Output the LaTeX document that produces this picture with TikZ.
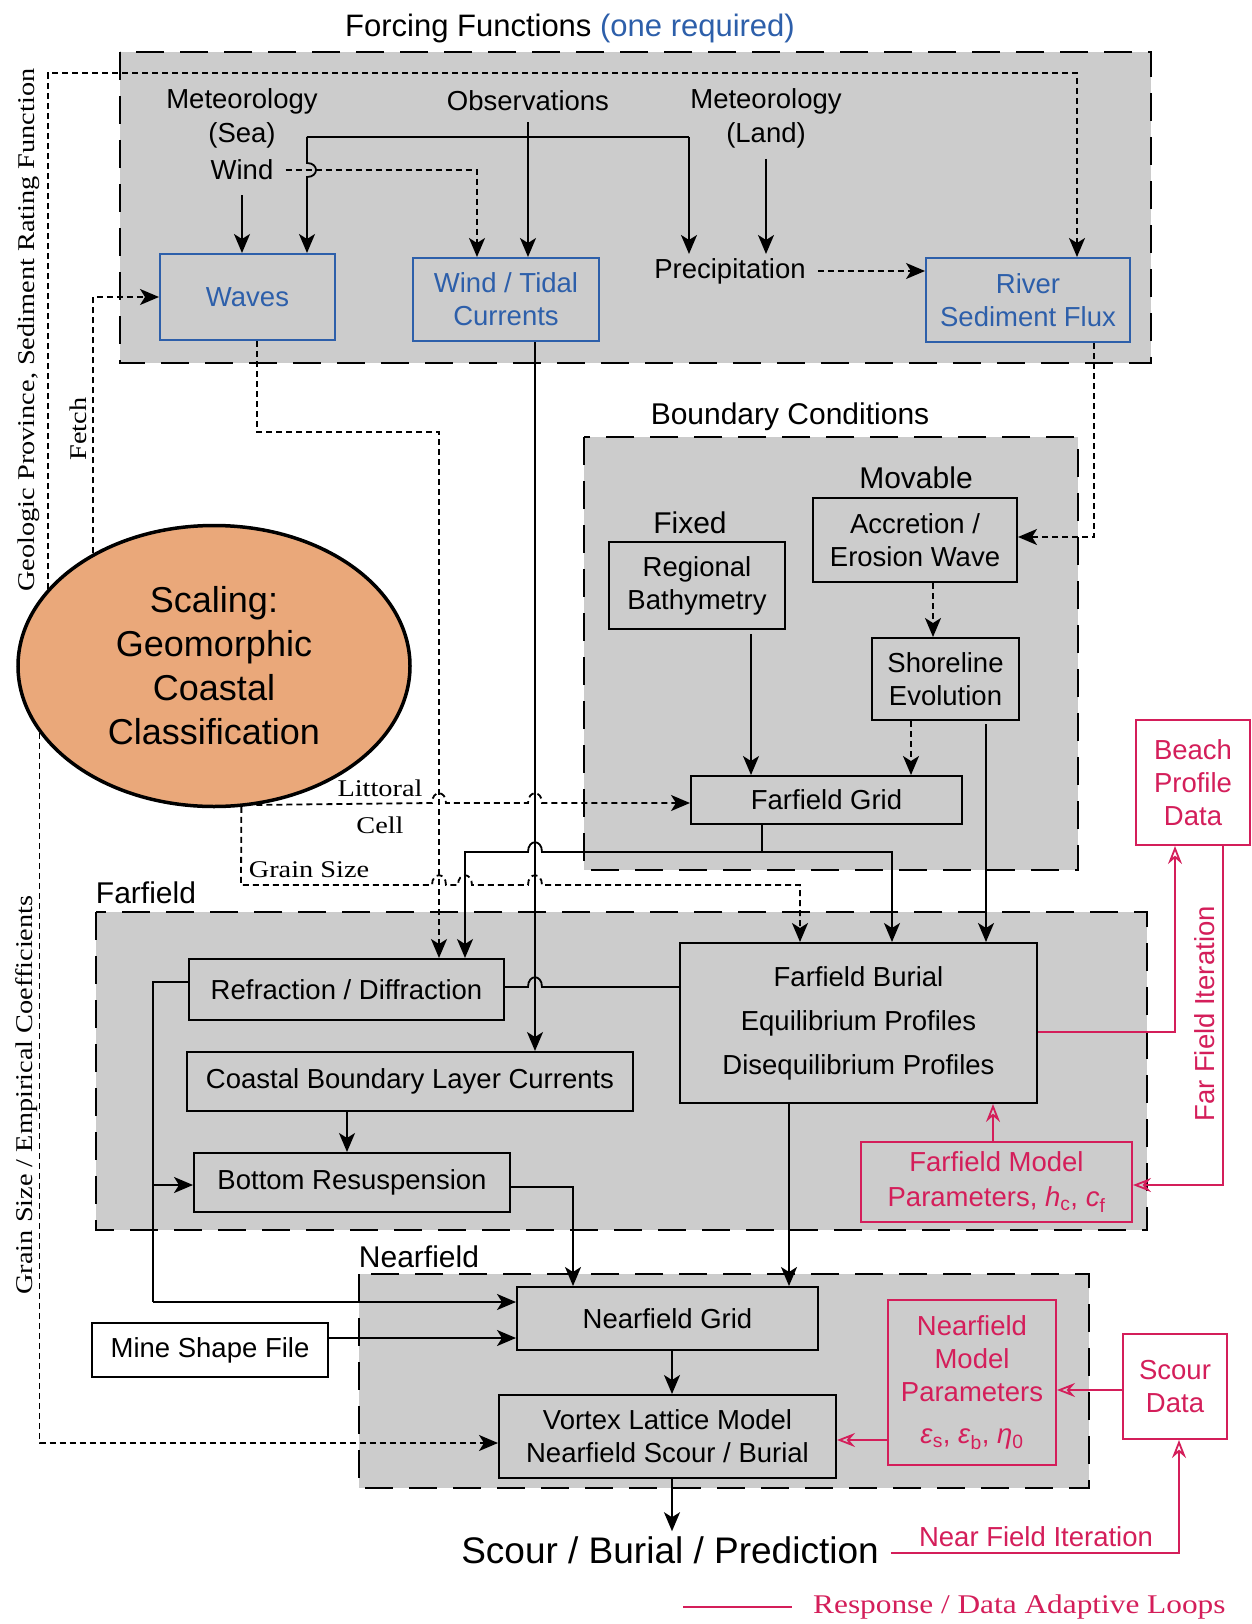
\documentclass[tikz,border=0pt]{standalone}
\usepackage{fontspec}
\setmainfont{Liberation Sans}
\newfontfamily\serif{Liberation Serif}
\usepackage{graphicx}
\usetikzlibrary{arrows.meta,shapes.geometric}
\definecolor{mygray}{RGB}{204,204,204}
\definecolor{myblue}{RGB}{45,95,170}
\definecolor{myred}{RGB}{212,30,90}
\definecolor{myorange}{RGB}{234,168,122}
\newcommand\fN{\fontsize{27.5}{33}\selectfont}
\newcommand\fT{\fontsize{30}{36}\selectfont}
\newcommand\fS{\serif\fontsize{24}{28}\selectfont}
\newcommand\st[1]{\scalebox{1.18}[1]{#1}}
\tikzset{
 blk/.tip={Stealth[length=19pt,width=16pt,inset=5pt]},
 opn/.tip={Stealth[open,length=18pt,width=14pt,inset=6pt]},
}
\begin{document}
\begin{tikzpicture}[x=1pt,y=-1pt,
 every node/.style={font=\fN, inner sep=0pt},
 box/.style={draw, line width=2pt, align=center, inner sep=0pt},
 bbox/.style={box, draw=myblue, text=myblue},
 rbox/.style={box, draw=myred, text=myred},
 grp/.style={draw, fill=mygray, line width=2.2pt, dash pattern=on 28pt off 16pt},
 con/.style={line width=1.8pt},
 dsh/.style={con, dash pattern=on 6pt off 4pt},
 arr/.style={-blk},
 oarr/.style={con, draw=myred, -opn},
 ]
\useasboundingbox (0,0) rectangle (1252,1624);
\fill[white] (0,0) rectangle (1252,1624);

% groups
\draw[grp] (120,52) rectangle (1151,363);
\draw[grp] (584,437) rectangle (1078,870);
\draw[grp] (96,912) rectangle (1147,1230);
\draw[grp] (359,1274) rectangle (1089,1488);

% titles and labels
\node[font=\fontsize{31}{36}\selectfont] (title) at (570,28) {Forcing Functions \textcolor{myblue}{(one required)}};
\node[align=center, font=\fontsize{27.5}{34.5}\selectfont] (metsea) at (242,118.5) {Meteorology\\(Sea)};
\node (wind) at (242,170) {Wind};
\node (obs) at (528,101) {Observations};
\node[align=center, font=\fontsize{27.5}{34.5}\selectfont] (metland) at (766,118.5) {Meteorology\\(Land)};
\node[inner ysep=4pt] (precip) at (730,271) {Precipitation};
\node[font=\fT] (bctitle) at (790,417) {Boundary Conditions};
\node[font=\fT] (movable) at (916,478) {Movable};
\node[font=\fT] (fixed) at (690,523) {Fixed};
\node[font=\fT] (fftitle) at (146,893) {Farfield};
\node[font=\fT] (nftitle) at (419,1257) {Nearfield};
\node[font=\fS] (littoral) at (380,788) {\st{Littoral}};
\node[font=\fS] (cell) at (380,825) {\st{Cell}};
\node[font=\fS] (grainlbl) at (309,870) {\st{Grain Size}};
\node[rotate=90, font=\fS] (geo) at (29,330) {\st{Geologic Province, Sediment Rating Function}};
\node[rotate=90, font=\fS] (fetch) at (78,429) {\st{Fetch}};
\node[rotate=90, font=\fS] (gsec) at (27,1095) {\st{Grain Size / Empirical Coefficients}};
\node[rotate=90, text=myred] (ffit) at (1205,1014) {Far Field Iteration};
\node[text=myred] (nfit) at (1036,1537) {Near Field Iteration};
\node[font=\fontsize{37}{44}\selectfont, inner ysep=5pt] (sbp) at (670,1550) {Scour / Burial / Prediction};
\node[text=myred, font=\serif\fontsize{27}{30}\selectfont, anchor=west] (legend) at (813,1607) {\scalebox{1.16}[1]{Response / Data Adaptive Loops}};

% ellipse
\node[ellipse, draw, line width=3.5pt, fill=myorange, minimum width=392pt, minimum height=281pt, align=center, font=\fontsize{36}{44}\selectfont] (ell) at (214,666) {Scaling:\\Geomorphic\\Coastal\\Classification};

% boxes
\node[bbox, minimum width=175, minimum height=86] (waves) at (247.5,297) {Waves};
\node[bbox, minimum width=186, minimum height=83] (wtc) at (506,299.5) {Wind / Tidal\\Currents};
\node[bbox, minimum width=204, minimum height=84] (river) at (1028,300) {River\\Sediment Flux};
\node[box, minimum width=176, minimum height=87] (regbath) at (697,585.5) {Regional\\Bathymetry};
\node[box, minimum width=204, minimum height=84] (accr) at (915,540) {Accretion /\\Erosion Wave};
\node[box, minimum width=147, minimum height=82] (shore) at (945.5,679) {Shoreline\\Evolution};
\node[box, minimum width=271, minimum height=48] (ffgrid) at (826.5,800) {Farfield Grid};
\node[box, minimum width=315, minimum height=61] (refr) at (346.5,989.5) {Refraction / Diffraction};
\node[box, minimum width=446, minimum height=59] (cblc) at (410,1081.5) {Coastal Boundary Layer Currents};
\node[box, minimum width=316, minimum height=59] (bres) at (352,1182.5) {Bottom Resuspension};
\node[box, minimum width=357, minimum height=160, font=\fontsize{27.5}{44}\selectfont] (ffb) at (858.5,1023) {Farfield Burial\\Equilibrium Profiles\\Disequilibrium Profiles};
\node[rbox, minimum width=271, minimum height=80, font=\fontsize{27.5}{35}\selectfont] (ffm) at (996.5,1182) {Farfield Model\\Parameters, \textit{h}\textsubscript{c}, \textit{c}\textsubscript{f}};
\node[rbox, fill=white, minimum width=114, minimum height=125] (beach) at (1193,782.5) {Beach\\Profile\\Data};
\node[box, minimum width=301, minimum height=63] (nfg) at (667.5,1318.5) {Nearfield Grid};
\node[box, fill=white, minimum width=236, minimum height=54] (mine) at (210,1350) {Mine Shape File};
\node[box, minimum width=337, minimum height=83] (vortex) at (667.5,1436.5) {Vortex Lattice Model\\Nearfield Scour / Burial};
\node[rbox, minimum width=168, minimum height=165] (nfp) at (972,1382.5) {Nearfield\\Model\\Parameters\\[9pt]\textit{ε}\textsubscript{s}, \textit{ε}\textsubscript{b}, \textit{η}\textsubscript{0}};
\node[rbox, fill=white, minimum width=104, minimum height=105] (scour) at (1175,1386.5) {Scour\\Data};

% helper coordinates
\coordinate (obsL) at (307,137);
\coordinate (obsR) at (689,137);
\coordinate (geoTR) at (1077,73);
\coordinate (wvc) at (439,432);
\coordinate (fgj) at (762,852);
\coordinate (rlA) at (153,1185);
\coordinate (rlB) at (153,1302);

% forcing connectors
\draw[con,arr] ([yshift=-15]wind.south) -- (wind.south |- waves.north);
\draw[con,arr] ([yshift=-11]obs.south) -- (obs.south |- wtc.north);
\draw[con] (obsL) -- (obsR);
\draw[con,arr] (obsL) -- (307,163) .. controls (319,163) and (319,177) .. (307,177) -- (obsL |- waves.north);
\draw[con,arr] (obsR) -- (obsR |- precip.north);
\draw[dsh,arr] ([xshift=12]wind.east) -| ([xshift=-29]wtc.north);
\draw[con,arr] ([yshift=-10]metland.south) -- (metland.south |- precip.north);
\draw[dsh,arr] ([xshift=12]precip.east) -- (precip.east -| river.west);

% left dashed inputs
\draw[dsh,arr] (ell.155) |- (geoTR) -- ([xshift=49]river.north);
\draw[dsh,arr] (ell.137) |- (waves.west);
\draw[dsh,arr] (ell.201) |- ([yshift=-6.5]vortex.west);

% waves / currents down
\draw[dsh,arr] ([xshift=9.5]waves.south) |- (wvc) -- ([xshift=92.5]refr.north);
\draw[con,arr] ([xshift=29]wtc.south) -- ([xshift=125]cblc.north);

% boundary conditions
\draw[dsh,arr] ([xshift=66]river.south) |- ([yshift=3]accr.east);
\draw[dsh,arr] ([xshift=18]accr.south) -- ([xshift=-12.5]shore.north);
\draw[con,arr] ([xshift=54,yshift=-4]regbath.south) -- ([xshift=-75.5]ffgrid.north);
\draw[dsh,arr] ([xshift=-34.5]shore.south) -- ([xshift=84.5]ffgrid.north);
\draw[con,arr] ([xshift=40.5,yshift=-3]shore.south) -- ([xshift=127.5]ffb.north);
\draw[con] ([xshift=-64.5]ffgrid.south) -- (fgj);
\draw[con,arr] (fgj) -| ([xshift=33.5]ffb.north);
\draw[con,arr] (fgj) -- (542,852) .. controls (542,839) and (528,839) .. (528,852) -- (465,852) -- ([xshift=118.5]refr.north);

% littoral cell and grain size
\draw[dsh,arr] (ell.-73) -- (432,803) .. controls (432,790) and (446,790) .. (446,803) -- (528,803) .. controls (528,790) and (542,790) .. (542,803) -- ([yshift=-3]ffgrid.west);
\draw[dsh,arr] (ell.-79) -- (241,885) -- (432,885) .. controls (432,872) and (446,872) .. (446,885) -- (458,885) .. controls (458,872) and (472,872) .. (472,885) -- (528,885) .. controls (528,872) and (542,872) .. (542,885) -- (800,885) -- ([xshift=-58.5]ffb.north);

% farfield
\draw[con] ([yshift=2.5]refr.east) -- (528,987) .. controls (528,974) and (542,974) .. (542,987) -- ([yshift=36]ffb.west);
\draw[con] ([yshift=7.5]refr.west) -| (rlB);
\draw[con,arr] (rlA) -- ([yshift=-2.5]bres.west);
\draw[con,arr] (rlB) -- ([yshift=16.5]nfg.west);
\draw[con,arr] ([xshift=-63]cblc.south) -- ([xshift=-5]bres.north);
\draw[con,arr] ([yshift=-4.5]bres.east) -| ([xshift=-94.5]nfg.north);
\draw[con,arr] ([xshift=-69.5]ffb.south) -- ([xshift=121.5]nfg.north);

% nearfield
\draw[con,arr] ([yshift=12]mine.east) -- ([yshift=-19.5]nfg.west);
\draw[con,arr] ([xshift=4.5]nfg.south) -- ([xshift=4.5]vortex.north);
\draw[con,arr] ([xshift=4.5]vortex.south) -- ([xshift=2]sbp.north);

% red loops
\draw[oarr] ([yshift=-9]ffb.east) -| ([xshift=-18]beach.south);
\draw[oarr] ([xshift=30]beach.south) |- ([yshift=-3]ffm.east);
\draw[oarr] ([xshift=-3.5]ffm.north) -- ([xshift=134.5]ffb.south);
\draw[oarr] ([yshift=-57.5]nfp.west) -- ([yshift=-3.5]vortex.east);
\draw[oarr] ([yshift=-3.5]scour.west) -- ([yshift=-7.5]nfp.east);
\draw[oarr] ([xshift=12,yshift=-3]sbp.east) -| ([xshift=4]scour.south);
\draw[con, myred] ([xshift=-130]legend.west) -- ([xshift=-21]legend.west);
\end{tikzpicture}
\end{document}
